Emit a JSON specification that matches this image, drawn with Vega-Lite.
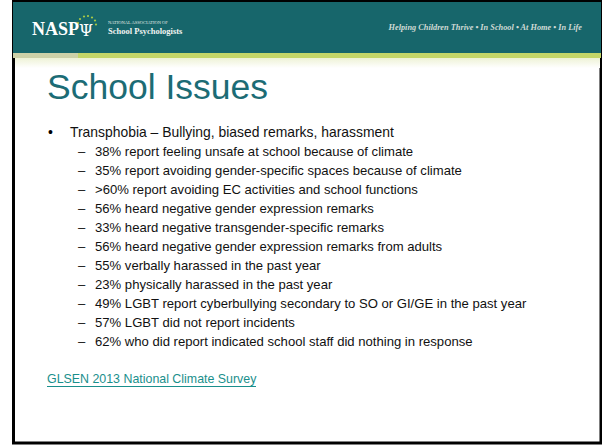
{
  "$schema": "https://vega.github.io/schema/vega-lite/v6.json",
  "width": 602,
  "height": 445,
  "autosize": {"type": "none"},
  "padding": 0,
  "background": "#ffffff",
  "config": {"view": {"stroke": null}},
  "datasets": {
    "frame": [{"x": 13.5, "x2": 601, "y": 1, "y2": 443}],
    "header": [{"x": 13, "x2": 601, "y": 2, "y2": 53}],
    "stripeLeft": [{"x": 13, "x2": 78, "y": 53, "y2": 58}],
    "stripeRight": [{"x": 78, "x2": 601, "y": 53, "y2": 58}],
    "fade": [{"x": 15, "x2": 600, "y": 58, "y2": 68}],
    "dots": [
      {"x": 78, "y": 23}, {"x": 80, "y": 19}, {"x": 84, "y": 16.5}, {"x": 88, "y": 16}, {"x": 92, "y": 17.5}, {"x": 95, "y": 20.5}, {"x": 96, "y": 24.5}
    ],
    "logo": [{"x": 32, "y": 35, "text": "NASP"}],
    "psi": [{"x": 86, "y": 36, "text": "Ψ"}],
    "orgSmall": [{"x": 108, "y": 24, "text": "NATIONAL ASSOCIATION OF"}],
    "orgName": [{"x": 108, "y": 34, "text": "School Psychologists"}],
    "tagline": [{"x": 582, "y": 30, "text": "Helping Children Thrive  •  In School  •  At Home  •  In Life"}],
    "title": [{"x": 47, "y": 99, "text": "School Issues"}],
    "bullets": [{"x": 48, "y": 133, "text": "•"}],
    "level1": [{"x": 70, "y": 133, "text": "Transphobia – Bullying, biased remarks, harassment"}],
    "dashes": [
      {"x": 78, "y": 152, "text": "–"}, {"x": 78, "y": 171, "text": "–"}, {"x": 78, "y": 190, "text": "–"},
      {"x": 78, "y": 209, "text": "–"}, {"x": 78, "y": 228, "text": "–"}, {"x": 78, "y": 247, "text": "–"},
      {"x": 78, "y": 266, "text": "–"}, {"x": 78, "y": 285, "text": "–"}, {"x": 78, "y": 304, "text": "–"},
      {"x": 78, "y": 323, "text": "–"}, {"x": 78, "y": 342, "text": "–"}
    ],
    "level2": [
      {"x": 95, "y": 152, "text": "38% report feeling unsafe at school because of climate"},
      {"x": 95, "y": 171, "text": "35% report avoiding gender-specific spaces because of climate"},
      {"x": 95, "y": 190, "text": ">60% report avoiding EC activities and school functions"},
      {"x": 95, "y": 209, "text": "56% heard negative gender expression remarks"},
      {"x": 95, "y": 228, "text": "33% heard negative transgender-specific remarks"},
      {"x": 95, "y": 247, "text": "56% heard negative gender expression remarks from adults"},
      {"x": 95, "y": 266, "text": "55% verbally harassed in the past year"},
      {"x": 95, "y": 285, "text": "23% physically harassed in the past year"},
      {"x": 95, "y": 304, "text": "49% LGBT report cyberbullying secondary to SO or GI/GE in the past year"},
      {"x": 95, "y": 323, "text": "57% LGBT did not report incidents"},
      {"x": 95, "y": 342, "text": "62% who did report indicated school staff did nothing in response"}
    ],
    "link": [{"x": 47, "y": 379, "text": "GLSEN 2013 National Climate Survey"}],
    "underline": [{"x": 47, "x2": 256, "y": 386.5}]
  },
  "layer": [
    {
      "data": {"name": "frame"},
      "mark": {"type": "rect", "fill": "#ffffff", "stroke": "#000000", "strokeWidth": 3},
      "encoding": {
        "x": {"field": "x", "type": "quantitative", "scale": {"domain": [0, 602], "nice": false, "zero": false}, "axis": null},
        "x2": {"field": "x2"},
        "y": {"field": "y", "type": "quantitative", "scale": {"domain": [0, 445], "nice": false, "zero": false, "reverse": true}, "axis": null},
        "y2": {"field": "y2"}
      }
    },
    {
      "data": {"name": "header"},
      "mark": {"type": "rect", "fill": "#17666b"},
      "encoding": {
        "x": {"field": "x", "type": "quantitative"}, "x2": {"field": "x2"},
        "y": {"field": "y", "type": "quantitative"}, "y2": {"field": "y2"}
      }
    },
    {
      "data": {"name": "stripeLeft"},
      "mark": {"type": "rect", "fill": "#cdd1a8"},
      "encoding": {
        "x": {"field": "x", "type": "quantitative"}, "x2": {"field": "x2"},
        "y": {"field": "y", "type": "quantitative"}, "y2": {"field": "y2"}
      }
    },
    {
      "data": {"name": "stripeRight"},
      "mark": {"type": "rect", "fill": "#c4d668"},
      "encoding": {
        "x": {"field": "x", "type": "quantitative"}, "x2": {"field": "x2"},
        "y": {"field": "y", "type": "quantitative"}, "y2": {"field": "y2"}
      }
    },
    {
      "data": {"name": "fade"},
      "mark": {"type": "rect", "fill": {"gradient": "linear", "x1": 0, "y1": 0, "x2": 0, "y2": 1, "stops": [{"offset": 0, "color": "#eef2d6"}, {"offset": 1, "color": "#ffffff"}]}},
      "encoding": {
        "x": {"field": "x", "type": "quantitative"}, "x2": {"field": "x2"},
        "y": {"field": "y", "type": "quantitative"}, "y2": {"field": "y2"}
      }
    },
    {
      "data": {"name": "dots"},
      "mark": {"type": "circle", "color": "#a9c946", "size": 5, "opacity": 1},
      "encoding": {
        "x": {"field": "x", "type": "quantitative"},
        "y": {"field": "y", "type": "quantitative"}
      }
    },
    {
      "data": {"name": "logo"},
      "mark": {"type": "text", "align": "left", "baseline": "alphabetic", "font": "Liberation Serif", "fontSize": 18, "fontWeight": "bold", "color": "#ffffff"},
      "encoding": {
        "x": {"field": "x", "type": "quantitative"},
        "y": {"field": "y", "type": "quantitative"},
        "text": {"field": "text"}
      }
    },
    {
      "data": {"name": "psi"},
      "mark": {"type": "text", "align": "center", "baseline": "alphabetic", "font": "DejaVu Serif", "fontSize": 16, "color": "#ffffff"},
      "encoding": {
        "x": {"field": "x", "type": "quantitative"},
        "y": {"field": "y", "type": "quantitative"},
        "text": {"field": "text"}
      }
    },
    {
      "data": {"name": "orgSmall"},
      "mark": {"type": "text", "align": "left", "baseline": "alphabetic", "font": "Liberation Serif", "fontSize": 4.5, "color": "#e6ece6"},
      "encoding": {
        "x": {"field": "x", "type": "quantitative"},
        "y": {"field": "y", "type": "quantitative"},
        "text": {"field": "text"}
      }
    },
    {
      "data": {"name": "orgName"},
      "mark": {"type": "text", "align": "left", "baseline": "alphabetic", "font": "Liberation Serif", "fontSize": 8.5, "fontWeight": "bold", "color": "#f2f5f2"},
      "encoding": {
        "x": {"field": "x", "type": "quantitative"},
        "y": {"field": "y", "type": "quantitative"},
        "text": {"field": "text"}
      }
    },
    {
      "data": {"name": "tagline"},
      "mark": {"type": "text", "align": "right", "baseline": "alphabetic", "font": "Liberation Serif", "fontSize": 8.3, "fontStyle": "italic", "fontWeight": "bold", "color": "#cfdad5"},
      "encoding": {
        "x": {"field": "x", "type": "quantitative"},
        "y": {"field": "y", "type": "quantitative"},
        "text": {"field": "text"}
      }
    },
    {
      "data": {"name": "title"},
      "mark": {"type": "text", "align": "left", "baseline": "alphabetic", "font": "Liberation Sans", "fontSize": 35.5, "color": "#1c6c75"},
      "encoding": {
        "x": {"field": "x", "type": "quantitative"},
        "y": {"field": "y", "type": "quantitative"},
        "text": {"field": "text"}
      }
    },
    {
      "data": {"name": "bullets"},
      "mark": {"type": "text", "align": "left", "baseline": "middle", "font": "Liberation Sans", "fontSize": 14, "color": "#000000"},
      "encoding": {
        "x": {"field": "x", "type": "quantitative"},
        "y": {"field": "y", "type": "quantitative"},
        "text": {"field": "text"}
      }
    },
    {
      "data": {"name": "level1"},
      "mark": {"type": "text", "align": "left", "baseline": "middle", "font": "Liberation Sans", "fontSize": 13.9, "color": "#111111"},
      "encoding": {
        "x": {"field": "x", "type": "quantitative"},
        "y": {"field": "y", "type": "quantitative"},
        "text": {"field": "text"}
      }
    },
    {
      "data": {"name": "dashes"},
      "mark": {"type": "text", "align": "left", "baseline": "middle", "font": "Liberation Sans", "fontSize": 13.1, "color": "#111111"},
      "encoding": {
        "x": {"field": "x", "type": "quantitative"},
        "y": {"field": "y", "type": "quantitative"},
        "text": {"field": "text"}
      }
    },
    {
      "data": {"name": "level2"},
      "mark": {"type": "text", "align": "left", "baseline": "middle", "font": "Liberation Sans", "fontSize": 13.1, "color": "#111111"},
      "encoding": {
        "x": {"field": "x", "type": "quantitative"},
        "y": {"field": "y", "type": "quantitative"},
        "text": {"field": "text"}
      }
    },
    {
      "data": {"name": "link"},
      "mark": {"type": "text", "align": "left", "baseline": "middle", "font": "Liberation Sans", "fontSize": 12.4, "color": "#1a8f8c"},
      "encoding": {
        "x": {"field": "x", "type": "quantitative"},
        "y": {"field": "y", "type": "quantitative"},
        "text": {"field": "text"}
      }
    },
    {
      "data": {"name": "underline"},
      "mark": {"type": "rule", "color": "#1a8f8c", "strokeWidth": 1},
      "encoding": {
        "x": {"field": "x", "type": "quantitative"}, "x2": {"field": "x2"},
        "y": {"field": "y", "type": "quantitative"}
      }
    }
  ]
}
